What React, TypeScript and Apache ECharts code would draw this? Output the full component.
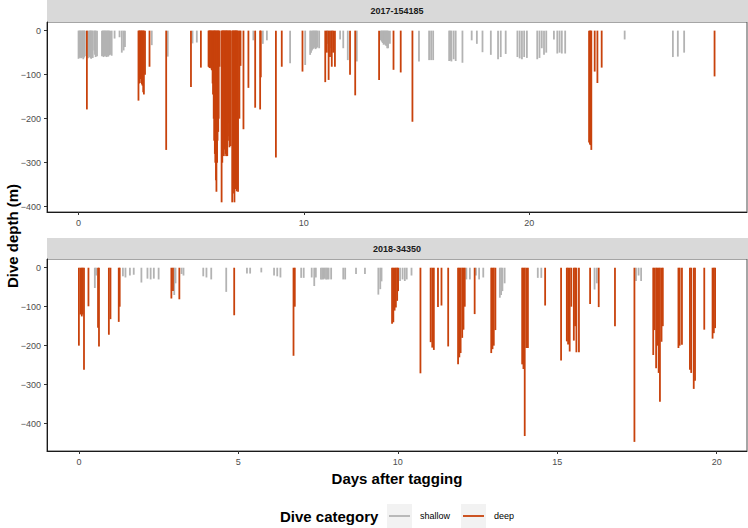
import React, { useEffect, useRef } from "react";
import * as echarts from "echarts";

// ---------- data: [day after tagging, max dive depth (m)] ----------
const panelTitles = ["2017-154185", "2018-34350"];
const topXTicks = [0, 10, 20];
const bottomXTicks = [0, 5, 10, 15, 20];
const yTicks = [0, -100, -200, -300, -400];
const legendLabels = ["shallow", "deep"];

const topShallow: number[][] = [
  [0.0, 64], [0.04, 62], [0.07, 60], [0.11, 63], [0.14, 62], [0.18, 60], [0.21, 65], [0.25, 61], [0.28, 58], [0.42, 63], [0.46, 58], [0.5, 60], [0.53, 62], [0.56, 64], [0.6, 61], [0.63, 62], [0.7, 45], [0.73, 55], [0.76, 60], [0.82, 58],
  [1.04, 58], [1.08, 57], [1.11, 60], [1.15, 58], [1.18, 56], [1.22, 59], [1.25, 60], [1.29, 57], [1.32, 59], [1.36, 56], [1.4, 55], [1.47, 57], [1.6, 18],
  [1.82, 15], [1.92, 50], [2.0, 45], [2.06, 37],
  [3.25, 33], [3.96, 59], [5.06, 29], [5.25, 27],
  [7.76, 22], [8.18, 30], [8.36, 22], [9.39, 74], [10.06, 78],
  [10.28, 55], [10.32, 50], [10.36, 45], [10.4, 42], [10.44, 40], [10.48, 38], [10.52, 42], [10.56, 40], [10.6, 38], [10.68, 40],
  [11.05, 30], [11.2, 40], [11.61, 20], [11.75, 40], [11.95, 67], [12.35, 70],
  [13.42, 22], [13.46, 25], [13.5, 28], [13.54, 32], [13.58, 30], [13.62, 33], [13.66, 35], [13.7, 40], [13.74, 40], [13.82, 30],
  [15.11, 70], [15.56, 67], [15.65, 67], [15.74, 67],
  [16.45, 69], [16.5, 68], [16.55, 70], [16.65, 65], [16.74, 69], [17.04, 73], [17.45, 22], [17.68, 30], [17.93, 49], [18.3, 55], [18.62, 65], [18.74, 60], [18.96, 53],
  [19.48, 60], [19.58, 63], [19.68, 65], [19.78, 60], [19.9, 62],
  [20.36, 65], [20.46, 62], [20.56, 40], [20.66, 55], [20.76, 50], [21.1, 20], [21.25, 52], [21.35, 50], [21.45, 52], [21.6, 52],
  [24.24, 20], [26.38, 60], [26.6, 59], [26.88, 50],
];

const topDeep: number[][] = [
  [0.37, 179],
  [2.66, 159], [2.69, 120], [2.72, 100], [2.75, 110], [2.78, 119], [2.81, 122], [2.84, 125], [2.87, 140], [2.9, 145], [2.95, 100],
  [3.15, 82], [3.89, 271], [4.99, 128], [5.43, 84],
  [5.77, 82], [5.8, 83], [5.82, 85], [5.85, 84], [5.87, 84], [5.9, 88], [5.92, 90], [5.95, 120], [5.97, 145], [6.0, 200], [6.02, 250], [6.05, 280], [6.07, 300], [6.1, 340], [6.12, 366], [6.15, 300], [6.17, 250], [6.2, 230], [6.22, 200], [6.26, 82],
  [6.35, 390], [6.38, 300], [6.4, 255], [6.43, 270], [6.45, 285], [6.48, 270], [6.5, 265], [6.53, 280], [6.55, 285], [6.58, 280], [6.6, 285], [6.63, 240], [6.65, 210], [6.68, 250], [6.7, 265], [6.73, 262], [6.75, 262],
  [6.82, 390], [6.85, 360], [6.87, 345], [6.9, 370], [6.92, 390], [6.95, 360], [6.97, 345], [7.0, 350], [7.02, 365], [7.05, 360], [7.08, 366], [7.14, 200], [7.19, 80],
  [7.32, 224], [7.54, 130], [7.84, 175], [8.06, 179], [8.09, 106], [8.76, 288], [9.02, 82], [9.94, 93],
  [10.95, 117], [11.02, 50], [11.1, 112], [11.16, 60], [11.24, 82], [11.3, 50], [11.38, 82],
  [12.05, 100], [12.28, 147],
  [13.34, 112], [13.98, 89], [14.3, 95], [14.82, 207],
  [22.66, 254], [22.7, 258], [22.72, 260], [22.76, 271], [22.91, 93], [23.03, 119], [23.22, 84],
  [28.23, 104],
];

const bottomShallow: number[][] = [
  [0.5, 52], [0.54, 20], [1.38, 22], [1.46, 25], [1.6, 20], [1.72, 18], [1.96, 38], [2.15, 28], [2.25, 30], [2.35, 28], [2.5, 30],
  [2.99, 70], [3.03, 40], [3.22, 16], [3.28, 20], [3.9, 22], [4.0, 25], [4.15, 30], [4.62, 62], [5.27, 15], [5.37, 15], [5.72, 12],
  [6.12, 20], [6.22, 22], [6.32, 25],
  [6.97, 26], [7.05, 26], [7.3, 25], [7.38, 47], [7.43, 25], [7.59, 30], [7.63, 30], [7.67, 30], [7.71, 28], [7.75, 30], [7.79, 30], [7.83, 30], [7.91, 30],
  [8.29, 30], [8.35, 30], [8.69, 16], [8.97, 16], [9.39, 69], [9.45, 55], [9.49, 35],
  [10.07, 34], [10.15, 30], [10.22, 34], [10.28, 30], [10.43, 20], [12.15, 30], [12.26, 30], [12.45, 20], [12.55, 30], [12.68, 25],
  [13.2, 77], [13.24, 70], [13.28, 60], [13.35, 40],
  [14.39, 26], [14.5, 26], [16.17, 56], [16.24, 40], [17.47, 34], [17.55, 20], [17.63, 34],
];

const bottomDeep: number[][] = [
  [0.0, 200], [0.05, 120], [0.09, 125], [0.12, 120], [0.16, 262], [0.3, 99], [0.6, 154], [0.63, 202], [0.94, 172], [0.99, 132],
  [1.25, 139], [1.28, 100], [2.9, 79], [2.95, 60], [3.15, 81], [4.87, 122],
  [6.73, 226], [6.77, 100],
  [9.82, 144], [9.86, 140], [9.9, 110], [9.94, 102], [9.98, 85], [10.01, 60],
  [10.71, 271], [11.03, 191], [11.08, 205], [11.13, 211], [11.26, 101], [11.37, 97], [11.58, 202],
  [11.89, 248], [11.93, 230], [11.97, 219], [12.02, 180], [12.06, 159], [12.1, 100], [12.41, 119],
  [12.93, 219], [12.97, 209], [13.01, 200], [13.06, 160],
  [13.9, 248], [13.94, 260], [13.98, 432], [14.03, 206], [14.08, 206], [14.62, 97],
  [15.12, 238], [15.3, 189], [15.34, 197], [15.39, 215], [15.44, 100], [15.52, 187], [15.56, 150], [15.6, 217], [15.68, 217],
  [16.03, 93], [16.3, 101], [16.81, 150], [17.42, 447],
  [18.01, 224], [18.05, 160], [18.1, 258], [18.14, 200], [18.18, 270], [18.22, 344], [18.27, 190], [18.31, 150],
  [18.8, 206], [18.84, 200], [18.91, 198],
  [19.16, 262], [19.2, 270], [19.28, 311], [19.32, 290], [19.61, 159], [19.87, 182], [19.91, 168], [19.95, 155],
];

const FONT = '"Liberation Sans", Arial, Helvetica, sans-serif';
const SHALLOW = "#b3b3b3";
const DEEP = "#c8420c";

function diveSeries(data: number[][], idx: number, color: string, name: string) {
  return {
    type: "custom",
    name,
    xAxisIndex: idx,
    yAxisIndex: idx,
    data: data.map((d) => [d[0], -d[1]]),
    encode: { x: 0, y: 1 },
    renderItem: (params: any, api: any) => {
      const t = api.value(0);
      const v = api.value(1);
      const p0 = api.coord([t, 0]);
      const p1 = api.coord([t, v]);
      return {
        type: "line",
        shape: { x1: p0[0], y1: p0[1], x2: p1[0], y2: p1[1] },
        style: { stroke: color, lineWidth: 1.8, lineCap: "butt" },
      };
    },
  };
}

function xAxis(idx: number, min: number, max: number, ticks: number[]) {
  return {
    gridIndex: idx,
    type: "value",
    min,
    max,
    axisLine: { show: true, onZero: false, lineStyle: { color: "#1a1a1a", width: 1 } },
    axisTick: { show: true, length: 3, customValues: ticks, lineStyle: { color: "#333" } },
    axisLabel: { customValues: ticks, fontSize: 9, color: "#4d4d4d", margin: 6, fontFamily: FONT },
    splitLine: { show: false },
  };
}

function yAxis(idx: number, min: number, max: number) {
  return {
    gridIndex: idx,
    type: "value",
    min,
    max,
    axisLine: { show: true, onZero: false, lineStyle: { color: "#1a1a1a", width: 1 } },
    axisTick: { show: true, length: 3, customValues: yTicks, lineStyle: { color: "#333" } },
    axisLabel: {
      customValues: yTicks,
      fontSize: 9,
      color: "#4d4d4d",
      margin: 6,
      fontFamily: FONT,
      formatter: (v: number) => String(v).replace("-", "\u2212"),
    },
    splitLine: { show: false },
  };
}

export default function App() {
  const ref = useRef<HTMLDivElement>(null);
  useEffect(() => {
    if (!ref.current) return;
    const chart = echarts.init(ref.current, undefined, { renderer: "svg" });
    const option: any = {
      animation: false,
      backgroundColor: "#ffffff",
      textStyle: { fontFamily: FONT },
      grid: [
        { left: 47, top: 22, width: 700, height: 190, show: true, borderColor: "#4d4d4d", borderWidth: 1, backgroundColor: "#fff" },
        { left: 47, top: 259, width: 700, height: 192, show: true, borderColor: "#4d4d4d", borderWidth: 1, backgroundColor: "#fff" },
      ],
      xAxis: [xAxis(0, -1.4, 29.67, topXTicks), xAxis(1, -1.0, 20.95, bottomXTicks)],
      yAxis: [yAxis(0, -412, 19.6), yAxis(1, -470.4, 22.4)],
      series: [
        diveSeries(topShallow, 0, SHALLOW, legendLabels[0]),
        diveSeries(topDeep, 0, DEEP, legendLabels[1]),
        diveSeries(bottomShallow, 1, SHALLOW, legendLabels[0]),
        diveSeries(bottomDeep, 1, DEEP, legendLabels[1]),
      ],
      graphic: [
        { type: "rect", shape: { x: 47, y: 0, width: 701, height: 22 }, style: { fill: "#d9d9d9" }, silent: true },
        { type: "rect", shape: { x: 47, y: 238, width: 701, height: 21 }, style: { fill: "#d9d9d9" }, silent: true },
        {
          type: "text", x: 397, y: 11,
          style: { text: panelTitles[0], fontSize: 9, fontWeight: "bold", fill: "#1a1a1a", textAlign: "center", textVerticalAlign: "middle", fontFamily: FONT },
        },
        {
          type: "text", x: 397, y: 249,
          style: { text: panelTitles[1], fontSize: 9, fontWeight: "bold", fill: "#1a1a1a", textAlign: "center", textVerticalAlign: "middle", fontFamily: FONT },
        },
        {
          type: "text", x: 12, y: 236, rotation: Math.PI / 2,
          style: { text: "Dive depth (m)", fontSize: 15, fontWeight: "bold", fill: "#000", textAlign: "center", textVerticalAlign: "middle", fontFamily: FONT },
        },
        {
          type: "text", x: 397, y: 478,
          style: { text: "Days after tagging", fontSize: 15, fontWeight: "bold", fill: "#000", textAlign: "center", textVerticalAlign: "middle", fontFamily: FONT },
        },
        {
          type: "text", x: 280, y: 516,
          style: { text: "Dive category", fontSize: 15, fontWeight: "bold", fill: "#000", textAlign: "left", textVerticalAlign: "middle", fontFamily: FONT },
        },
        { type: "rect", shape: { x: 387, y: 504, width: 25, height: 24 }, style: { fill: "#f2f2f2" }, silent: true },
        { type: "line", shape: { x1: 389, y1: 516, x2: 410, y2: 516 }, style: { stroke: SHALLOW, lineWidth: 1.8 } },
        {
          type: "text", x: 420, y: 516,
          style: { text: legendLabels[0], fontSize: 9, fill: "#000", textAlign: "left", textVerticalAlign: "middle", fontFamily: FONT },
        },
        { type: "rect", shape: { x: 461, y: 504, width: 25, height: 24 }, style: { fill: "#f2f2f2" }, silent: true },
        { type: "line", shape: { x1: 463, y1: 516, x2: 484, y2: 516 }, style: { stroke: DEEP, lineWidth: 1.8 } },
        {
          type: "text", x: 494, y: 516,
          style: { text: legendLabels[1], fontSize: 9, fill: "#000", textAlign: "left", textVerticalAlign: "middle", fontFamily: FONT },
        },
      ],
    };
    chart.setOption(option);
    return () => chart.dispose();
  }, []);
  return <div ref={ref} style={{ position: "fixed", left: 0, top: 0, width: 748, height: 528 }} />;
}
